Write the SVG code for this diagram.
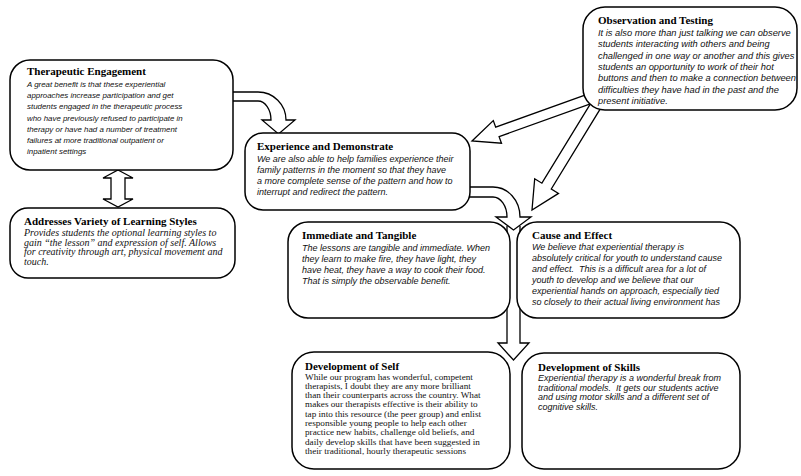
<svg xmlns="http://www.w3.org/2000/svg" width="801" height="476" viewBox="0 0 801 476">
<style>
.box{fill:#fff;stroke:#000;stroke-width:1.5}
.arr{fill:#fff;stroke:#000;stroke-width:1.3;stroke-linejoin:miter}
.t{font-family:"Liberation Serif",serif;font-weight:bold;font-size:11px;fill:#000}
.b{font-family:"Liberation Sans",sans-serif;font-style:italic;font-size:9px;fill:#111;white-space:pre}
.b8{font-family:"Liberation Sans",sans-serif;font-style:italic;font-size:7.9px;fill:#111}
.bo{font-family:"Liberation Sans",sans-serif;font-style:italic;font-size:9.3px;fill:#111}
.si{font-family:"Liberation Serif",serif;font-style:italic;font-size:10px;fill:#111}
.sr{font-family:"Liberation Serif",serif;font-size:9.2px;fill:#111}
</style>
<g id="connectors">
<path class="arr" d="M225,92 H258 A28,28 0 0 1 286,120 H295 L278.5,134 L262,120 H271 A13,19 0 0 0 258,101 H225 Z"/>
<path class="arr" d="M118,170 L133,178 H125 V199 H133 L118,207 L103,199 H111 V178 H103 Z"/>
<path class="arr" d="M589.8,93.4 L495.7,127.2 L493.3,120.6 L472,141 L501.5,143.2 L499.1,136.6 L593.2,102.8 Z"/>
<path class="arr" d="M593.3,99.1 L541.9,183.2 L534.7,178.8 L532,210 L558.5,193.4 L551.3,189 L602.7,104.9 Z"/>
<path class="arr" d="M507,226 V343 H498 L513.5,360 L529,343 H520 V226"/>
<path class="arr" d="M460,187 H493 A27,30 0 0 1 520,217 H531 L513.5,230 L496,217 H507 A14,20 0 0 0 493,197 H460 Z"/>
</g>
<g id="therapeutic-engagement">
<rect class="box" x="10" y="60" width="223" height="110" rx="20"/>
<text class="t" x="27" y="75">Therapeutic Engagement</text>
<text class="b8"><tspan x="27" y="87">A great benefit is that these experiential</tspan><tspan x="27" dy="11.2">approaches increase participation and get</tspan><tspan x="27" dy="11.2">students engaged in the therapeutic process</tspan><tspan x="27" dy="11.2">who have previously refused to participate in</tspan><tspan x="27" dy="11.2">therapy or have had a number of treatment</tspan><tspan x="27" dy="11.2">failures at more traditional outpatient or</tspan><tspan x="27" dy="11.2">inpatient settings</tspan></text>
</g>
<g id="addresses-variety">
<rect class="box" x="10" y="208" width="225" height="70" rx="18"/>
<text class="t" x="24" y="225">Addresses Variety of Learning Styles</text>
<text class="si"><tspan x="24" y="236">Provides students the optional learning styles to</tspan><tspan x="24" dy="9.7">gain “the lesson” and expression of self. Allows</tspan><tspan x="24" dy="9.7">for creativity through art, physical movement and</tspan><tspan x="24" dy="9.7">touch.</tspan></text>
</g>
<g id="observation-testing">
<rect class="box" x="583" y="7" width="214" height="103" rx="22"/>
<text class="t" x="598" y="24">Observation and Testing</text>
<text class="bo"><tspan x="598" y="36">It is also more than just talking we can observe</tspan><tspan x="598" dy="11.3">students interacting with others and being</tspan><tspan x="598" dy="11.3">challenged in one way or another and this gives</tspan><tspan x="598" dy="11.3">students an opportunity to work of their hot</tspan><tspan x="598" dy="11.3">buttons and then to make a connection between</tspan><tspan x="598" dy="11.3">difficulties they have had in the past and the</tspan><tspan x="598" dy="11.3">present initiative.</tspan></text>
</g>
<g id="experience-demonstrate">
<rect class="box" x="245" y="133" width="225" height="77" rx="18"/>
<text class="t" x="257" y="150">Experience and Demonstrate</text>
<text class="b"><tspan x="257" y="162">We are also able to help families experience their</tspan><tspan x="257" dy="11">family patterns in the moment so that they have</tspan><tspan x="257" dy="11">a more complete sense of the pattern and how to</tspan><tspan x="257" dy="11">interrupt and redirect the pattern.</tspan></text>
</g>
<g id="immediate-tangible">
<rect class="box" x="288" y="222" width="222" height="96" rx="20"/>
<text class="t" x="302" y="239">Immediate and Tangible</text>
<text class="b"><tspan x="302" y="251">The lessons are tangible and immediate. When</tspan><tspan x="302" dy="11">they learn to make fire, they have light, they</tspan><tspan x="302" dy="11">have heat, they have a way to cook their food.</tspan><tspan x="302" dy="11">That is simply the observable benefit.</tspan></text>
</g>
<g id="cause-effect">
<rect class="box" x="517" y="222" width="223" height="96" rx="20"/>
<text class="t" x="532" y="239">Cause and Effect</text>
<text class="b"><tspan x="532" y="250">We believe that experiential therapy is</tspan><tspan x="532" dy="11">absolutely critical for youth to understand cause</tspan><tspan x="532" dy="11">and effect.  This is a difficult area for a lot of</tspan><tspan x="532" dy="11">youth to develop and we believe that our</tspan><tspan x="532" dy="11">experiential hands on approach, especially tied</tspan><tspan x="532" dy="11">so closely to their actual living environment has</tspan></text>
</g>
<g id="development-self">
<rect class="box" x="292" y="352" width="218" height="117" rx="22"/>
<text class="t" x="305" y="370">Development of Self</text>
<text class="sr"><tspan x="305" y="379.5">While our program has wonderful, competent</tspan><tspan x="305" dy="9.3">therapists, I doubt they are any more brilliant</tspan><tspan x="305" dy="9.3">than their counterparts across the country. What</tspan><tspan x="305" dy="9.3">makes our therapists effective is their ability to</tspan><tspan x="305" dy="9.3">tap into this resource (the peer group) and enlist</tspan><tspan x="305" dy="9.3">responsible young people to help each other</tspan><tspan x="305" dy="9.3">practice new habits, challenge old beliefs, and</tspan><tspan x="305" dy="9.3">daily develop skills that have been suggested in</tspan><tspan x="305" dy="9.3">their traditional, hourly therapeutic sessions</tspan></text>
</g>
<g id="development-skills">
<rect class="box" x="522" y="353" width="218" height="116" rx="22"/>
<text class="t" x="538" y="371">Development of Skills</text>
<text class="b"><tspan x="538" y="381">Experiential therapy is a wonderful break from</tspan><tspan x="538" dy="9.7">traditional models.  It gets our students active</tspan><tspan x="538" dy="9.7">and using motor skills and a different set of</tspan><tspan x="538" dy="9.7">cognitive skills.</tspan></text>
</g>
</svg>
